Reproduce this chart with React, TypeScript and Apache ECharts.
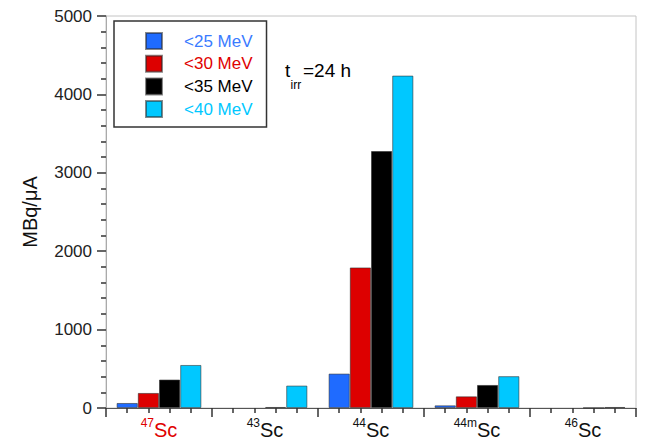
import React, { useEffect, useRef } from "react";
import * as echarts from "echarts";

const categories = ["47Sc", "43Sc", "44Sc", "44mSc", "46Sc"];
const categoryColors = ["#e00000", "#111111", "#111111", "#111111", "#111111"];
const seriesNames = ["<25 MeV", "<30 MeV", "<35 MeV", "<40 MeV"];
const seriesColors = ["#1f6bff", "#dd0000", "#000000", "#00c8ff"];
const legendTextColors = ["#3a7bff", "#e00000", "#000000", "#00c8ff"];
const below25 = [64, 0, 439, 34, 0];
const below30 = [192, 0, 1793, 149, 0];
const below35 = [363, 13, 3278, 294, 3];
const below40 = [549, 286, 4240, 406, 13];
const seriesValues = [below25, below30, below35, below40];
const yTicks = [0, 1000, 2000, 3000, 4000, 5000];

const FONT = "'Liberation Sans', Arial, sans-serif";

export default function App() {
  const ref = useRef<HTMLDivElement>(null);
  useEffect(() => {
    if (!ref.current) return;
    const chart = echarts.init(ref.current, undefined, { renderer: "svg" });
    const rich: any = {};
    categories.forEach((_, i) => {
      rich["sup" + i] = {
        fontSize: 12,
        lineHeight: 12,
        verticalAlign: "top",
        color: categoryColors[i],
        fontFamily: FONT,
      };
      rich["el" + i] = {
        fontSize: 20,
        lineHeight: 26,
        color: categoryColors[i],
        fontFamily: FONT,
      };
    });
    chart.setOption({
      animation: false,
      textStyle: { fontFamily: FONT },
      grid: {
        left: 106,
        right: 9,
        top: 16,
        bottom: 35,
        show: true,
        borderColor: "#c4c4c4",
        borderWidth: 1,
        backgroundColor: "transparent",
      },
      legend: {
        orient: "vertical",
        left: 114,
        top: 21,
        padding: [11, 14, 9, 31],
        itemWidth: 16,
        itemHeight: 16,
        itemGap: 4.7,
        borderColor: "#333",
        borderWidth: 1.5,
        selectedMode: false,
        textStyle: { fontSize: 17, fontFamily: FONT, padding: [0, 0, 0, 17] },
        data: seriesNames.map((n, i) => ({
          name: n,
          icon: "rect",
          textStyle: { color: legendTextColors[i] },
        })),
      },
      xAxis: [
        {
          type: "category",
          data: categories,
          position: "bottom",
          axisLine: { show: false },
          axisTick: { show: false },
          axisLabel: {
            interval: 0,
            margin: 9,
            formatter: (v: string, i: number) => {
              const m = v.match(/^(\d+m?)(.*)$/);
              if (!m) return v;
              return `{sup${i}|${m[1]}}{el${i}|${m[2]}}`;
            },
            rich,
          },
        },
        {
          type: "value",
          min: 0,
          max: categories.length,
          interval: 1,
          position: "bottom",
          axisLine: { show: true, onZero: false, lineStyle: { color: "#555", width: 1 } },
          axisTick: { show: true, length: 9, lineStyle: { color: "#333", width: 1.5 } },
          minorTick: { show: true, splitNumber: 5, length: 5, lineStyle: { color: "#333", width: 1.5 } },
          axisLabel: { show: false },
          splitLine: { show: false },
        },
      ],
      yAxis: {
        type: "value",
        min: yTicks[0],
        max: yTicks[yTicks.length - 1],
        interval: 1000,
        name: "MBq/\u03bcA",
        nameLocation: "middle",
        nameRotate: 90,
        nameGap: 66,
        nameTextStyle: { fontSize: 20, color: "#111", fontFamily: FONT },
        axisLine: { show: true, lineStyle: { color: "#aaa", width: 1 } },
        axisTick: { show: true, length: 9, lineStyle: { color: "#333", width: 1.5 } },
        minorTick: { show: true, splitNumber: 5, length: 5, lineStyle: { color: "#333", width: 1.5 } },
        axisLabel: {
          fontSize: 17,
          color: "#222",
          margin: 14,
          fontFamily: FONT,
          formatter: (v: number) => String(v),
        },
        splitLine: { show: false },
      },
      graphic: [
        { type: "text", x: 285, y: 61, style: { text: "t", fontSize: 19, fill: "#000", fontFamily: FONT } },
        { type: "text", x: 290.5, y: 79, style: { text: "irr", fontSize: 12, fill: "#000", fontFamily: FONT } },
        { type: "text", x: 303, y: 61, style: { text: "=24 h", fontSize: 19, fill: "#000", fontFamily: FONT } },
      ],
      series: seriesNames.map((n, i) => ({
        name: n,
        type: "bar",
        xAxisIndex: 0,
        yAxisIndex: 0,
        barGap: "0%",
        barCategoryGap: "20%",
        data: seriesValues[i].map((v) => (v === 0 ? null : v)),
        itemStyle: {
          color: seriesColors[i],
          borderColor: "rgba(40,40,40,0.55)",
          borderWidth: 1,
        },
      })),
    });
    return () => chart.dispose();
  }, []);
  return (
    <div
      ref={ref}
      style={{ position: "absolute", left: 0, top: 0, width: 645, height: 443 }}
    />
  );
}
